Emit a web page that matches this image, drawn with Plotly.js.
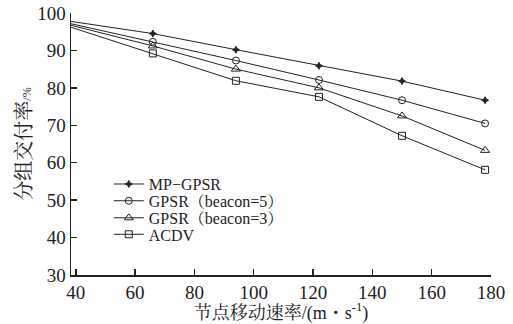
<!DOCTYPE html>
<html>
<head>
<meta charset="utf-8">
<script src="https://cdn.plot.ly/plotly-3.0.1.min.js"></script>
<style>html,body{margin:0;padding:0;background:#fff;}#chart{width:513px;height:324px;}</style>
</head>
<body>
<div id="chart"></div>
<script>
const speeds = [38, 66, 94, 122, 150, 178];
const mpGpsr = [97.8, 94.5, 90.2, 85.9, 81.8, 76.7];
const gpsrB5 = [97.2, 92.3, 87.3, 82.1, 76.7, 70.5];
const gpsrB3 = [96.8, 91.2, 85.0, 80.0, 72.5, 63.3];
const acdv = [96.3, 89.2, 81.9, 77.6, 67.2, 58.1];
const seriesNames = ['MP−GPSR', 'GPSR（beacon=5）', 'GPSR（beacon=3）', 'ACDV'];
const xTicks = [40, 60, 80, 100, 120, 140, 160, 180];
const yTicks = [30, 40, 50, 60, 70, 80, 90, 100];

const fam = 'Liberation Serif, Noto Serif CJK SC, Noto Sans CJK SC, serif';
const symbols = ['star-diamond', 'circle-open', 'triangle-up-open', 'square-open'];
const sizes = [5, 7, 8, 7];
const allY = [mpGpsr, gpsrB5, gpsrB3, acdv];
const legendIds = ['legend', 'legend2', 'legend3', 'legend4'];
const legendRowsY = [0.347, 0.283, 0.218, 0.155];

const traces = allY.map((ys, i) => ({
  x: speeds, y: ys, name: seriesNames[i], type: 'scatter', mode: 'lines+markers',
  legend: legendIds[i],
  line: {color: '#222', width: 1},
  marker: {symbol: symbols[i], size: sizes[i], color: '#222', line: {color: '#222', width: 1}},
  cliponaxis: false
}));

const layout = {
  width: 513, height: 324,
  margin: {l: 71, r: 22, t: 13, b: 49},
  paper_bgcolor: '#fff', plot_bgcolor: '#fff',
  font: {family: fam, color: '#222', size: 18},
  showlegend: true,
  xaxis: {
    range: [38.4, 180], tickvals: xTicks, ticktext: xTicks.map(String),
    showgrid: false, zeroline: false, showline: true, linecolor: '#222', linewidth: 1.5,
    ticks: 'inside', ticklen: 6, tickwidth: 1.5, tickcolor: '#222',
    tickfont: {family: fam, size: 19, color: '#222'},
    title: {text: '节点移动速率/(m・s<sup>-1</sup>)', font: {family: fam, size: 18, color: '#222'}, standoff: 3}
  },
  yaxis: {
    range: [30, 100], tickvals: yTicks, ticktext: yTicks.map(String),
    showgrid: false, zeroline: false, showline: true, linecolor: '#222', linewidth: 1.5,
    ticks: 'inside', ticklen: 6, tickwidth: 1.5, tickcolor: '#222',
    tickfont: {family: fam, size: 19, color: '#222'},
    title: {text: '分组交付率<span style="font-size:12px">/%</span>', font: {family: fam, size: 20, color: '#222'}, standoff: 0}
  }
};
legendIds.forEach((id, i) => {
  layout[id] = {x: 0.09, y: legendRowsY[i], xanchor: 'left', yanchor: 'middle',
    bgcolor: 'rgba(0,0,0,0)', font: {family: fam, size: 16, color: '#222'}, itemwidth: 30};
});

Plotly.newPlot('chart', traces, layout, {displayModeBar: false, staticPlot: true});
</script>
</body>
</html>
